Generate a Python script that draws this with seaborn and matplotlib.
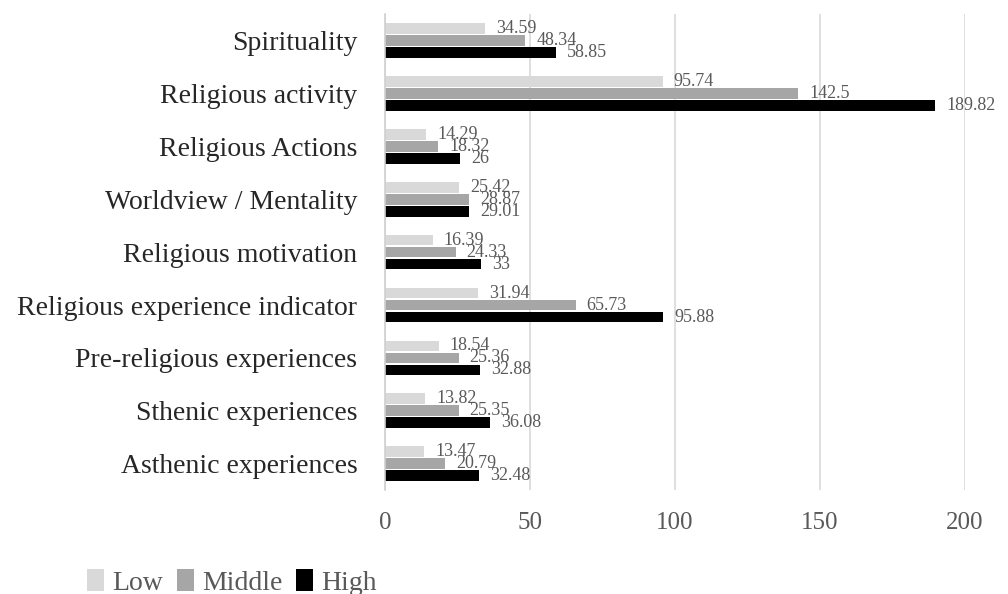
import matplotlib
matplotlib.use("Agg")
import matplotlib.pyplot as plt
import pandas as pd
import seaborn as sns

categories = ["Spirituality", "Religious activity", "Religious Actions",
              "Worldview / Mentality", "Religious motivation",
              "Religious experience indicator", "Pre-religious experiences",
              "Sthenic experiences", "Asthenic experiences"]
low = [34.59, 95.74, 14.29, 25.42, 16.39, 31.94, 18.54, 13.82, 13.47]
middle = [48.34, 142.5, 18.32, 28.87, 24.33, 65.73, 25.36, 25.35, 20.79]
high = [58.85, 189.82, 26, 29.01, 33, 95.88, 32.88, 36.08, 32.48]
groups = ["Low", "Middle", "High"]
colors = ["#d9d9d9", "#a6a6a6", "#000000"]

df = pd.DataFrame({"Category": categories * 3,
                   "Value": low + middle + high,
                   "Group": [g for g in groups for _ in categories]})

sns.set_style("white")
plt.rcParams["font.family"] = ["Liberation Serif", "DejaVu Serif"]

fig = plt.figure(figsize=(10.08, 5.94), dpi=100)
ax = fig.add_axes([0.382, 0.175, 0.575, 0.801])

sns.barplot(data=df, y="Category", x="Value", hue="Group", hue_order=groups,
            palette=colors, orient="h", width=0.68, gap=0.0, ax=ax,
            errorbar=None, legend=True, linewidth=0)

# thin the bars a little so a white gap shows between them
for cont in ax.containers:
    for bar in cont:
        h = bar.get_height()
        bar.set_y(bar.get_y() + h * 0.06)
        bar.set_height(h * 0.88)
    ax.bar_label(cont, fmt="{:g}", padding=8, fontsize=13, color="#595959")

ax.set_xlim(0, 200)
ax.set_xticks([0, 50, 100, 150, 200])
ax.set_xlabel("")
ax.set_ylabel("")
ax.grid(axis="x", color="#d9d9d9", linewidth=1.2)
ax.set_axisbelow(True)
for s in ["top", "right", "bottom"]:
    ax.spines[s].set_visible(False)
ax.spines["left"].set_color("#d0d0d0")
ax.spines["left"].set_linewidth(1.2)
ax.tick_params(axis="x", length=0, pad=16, labelsize=18, labelcolor="#595959")
ax.tick_params(axis="y", length=0, pad=20, labelsize=20, labelcolor="#262626")

handles, labels = ax.get_legend_handles_labels()
ax.get_legend().remove()
fig.legend(handles, labels, loc="lower left", bbox_to_anchor=(0.062, -0.045),
           ncol=3, frameon=False, fontsize=20, handlelength=0.6,
           handleheight=0.8, handletextpad=0.3, columnspacing=0.5,
           labelcolor="#595959")

fig.savefig("out.png", dpi=100)
